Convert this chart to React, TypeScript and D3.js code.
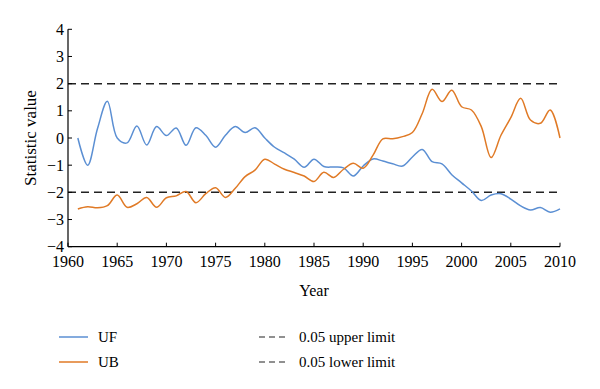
import React from "react";
import * as d3 from "d3";

const years = d3.range(1961, 2011);
const uf = [0.0, -1.0, 0.35, 1.35, 0.0, -0.18, 0.44, -0.26, 0.42, 0.09, 0.37, -0.27, 0.38, 0.1, -0.34, 0.1, 0.42, 0.2, 0.38, 0.0,
  -0.34, -0.55, -0.78, -1.08, -0.78, -1.05, -1.07, -1.1, -1.4, -1.03, -0.77, -0.85, -0.95, -1.03, -0.7, -0.42, -0.87, -0.95, -1.35, -1.65,
  -1.95, -2.3, -2.1, -2.05, -2.25, -2.5, -2.65, -2.56, -2.73, -2.61];
const ub = [-2.61, -2.53, -2.57, -2.49, -2.1, -2.55, -2.42, -2.19, -2.55, -2.2, -2.13, -1.97, -2.38, -2.05, -1.83, -2.19, -1.85, -1.42, -1.18, -0.78,
  -0.96, -1.15, -1.27, -1.4, -1.6, -1.26, -1.45, -1.15, -0.93, -1.11, -0.63, -0.03, -0.03, 0.05, 0.2, 0.9, 1.79, 1.34, 1.76, 1.15,
  1.03, 0.42, -0.72, 0.1, 0.75, 1.46, 0.66, 0.54, 1.03, 0.0];
const xTicks = [1960, 1965, 1970, 1975, 1980, 1985, 1990, 1995, 2000, 2005, 2010];
const yTicks = [-4, -3, -2, -1, 0, 1, 2, 3, 4];
const limits = [2, -2];

const FONT = "'Liberation Serif', 'DejaVu Serif', serif";
const BLUE = "#5b8fd3";
const ORANGE = "#e07a26";

export default function App() {
  const W = 600, H = 389;
  const x = d3.scaleLinear().domain([1960, 2010]).range([68, 560]);
  const y = d3.scaleLinear().domain([-4, 4]).range([246.7, 29.3]);
  const line = d3.line<number>().x((_, i) => x(years[i])).y((d) => y(d)).curve(d3.curveCatmullRom.alpha(0.5));
  return (
    <svg width={W} height={H} style={{ position: "absolute", left: 0, top: 0, background: "#fff" }}>
      {limits.map((v) => (
        <line key={v} x1={x(1960)} x2={x(2010)} y1={y(v)} y2={y(v)} stroke="#222" strokeWidth={1.5} strokeDasharray="8,5" />
      ))}
      <path d={line(uf) || ""} fill="none" stroke={BLUE} strokeWidth={1.5} />
      <path d={line(ub) || ""} fill="none" stroke={ORANGE} strokeWidth={1.5} />
      <line x1={x(1960)} x2={x(1960)} y1={y(4)} y2={y(-4)} stroke="#000" strokeWidth={1.2} />
      <line x1={x(1960)} x2={x(2010)} y1={y(-4)} y2={y(-4)} stroke="#000" strokeWidth={1.2} />
      {yTicks.map((t) => (
        <g key={t}>
          <line x1={x(1960)} x2={x(1960) + 4} y1={y(t)} y2={y(t)} stroke="#000" strokeWidth={1} />
          <text x={x(1960) - 4} y={y(t) + 5.5} textAnchor="end" fontFamily={FONT} fontSize={16}>
            {t < 0 ? "\u2212" + Math.abs(t) : t}
          </text>
        </g>
      ))}
      {xTicks.map((t) => (
        <g key={t}>
          <line x1={x(t)} x2={x(t)} y1={y(-4)} y2={y(-4) - 4} stroke="#000" strokeWidth={1} />
          <text x={x(t)} y={267} textAnchor="middle" fontFamily={FONT} fontSize={16}>{t}</text>
        </g>
      ))}
      <text x={314} y={296} textAnchor="middle" fontFamily={FONT} fontSize={16}>Year</text>
      <text transform="translate(36,138) rotate(-90)" textAnchor="middle" fontFamily={FONT} fontSize={17}>Statistic value</text>
      <line x1={59} x2={88} y1={337} y2={337} stroke={BLUE} strokeWidth={1.5} />
      <text x={98} y={342} fontFamily={FONT} fontSize={15}>UF</text>
      <line x1={59} x2={88} y1={362} y2={362} stroke={ORANGE} strokeWidth={1.5} />
      <text x={98} y={367} fontFamily={FONT} fontSize={15}>UB</text>
      <line x1={259} x2={288} y1={337} y2={337} stroke="#222" strokeWidth={1.2} strokeDasharray="6,4" />
      <text x={299} y={342} fontFamily={FONT} fontSize={15}>0.05 upper limit</text>
      <line x1={259} x2={288} y1={362} y2={362} stroke="#222" strokeWidth={1.2} strokeDasharray="6,4" />
      <text x={299} y={367} fontFamily={FONT} fontSize={15}>0.05 lower limit</text>
    </svg>
  );
}
